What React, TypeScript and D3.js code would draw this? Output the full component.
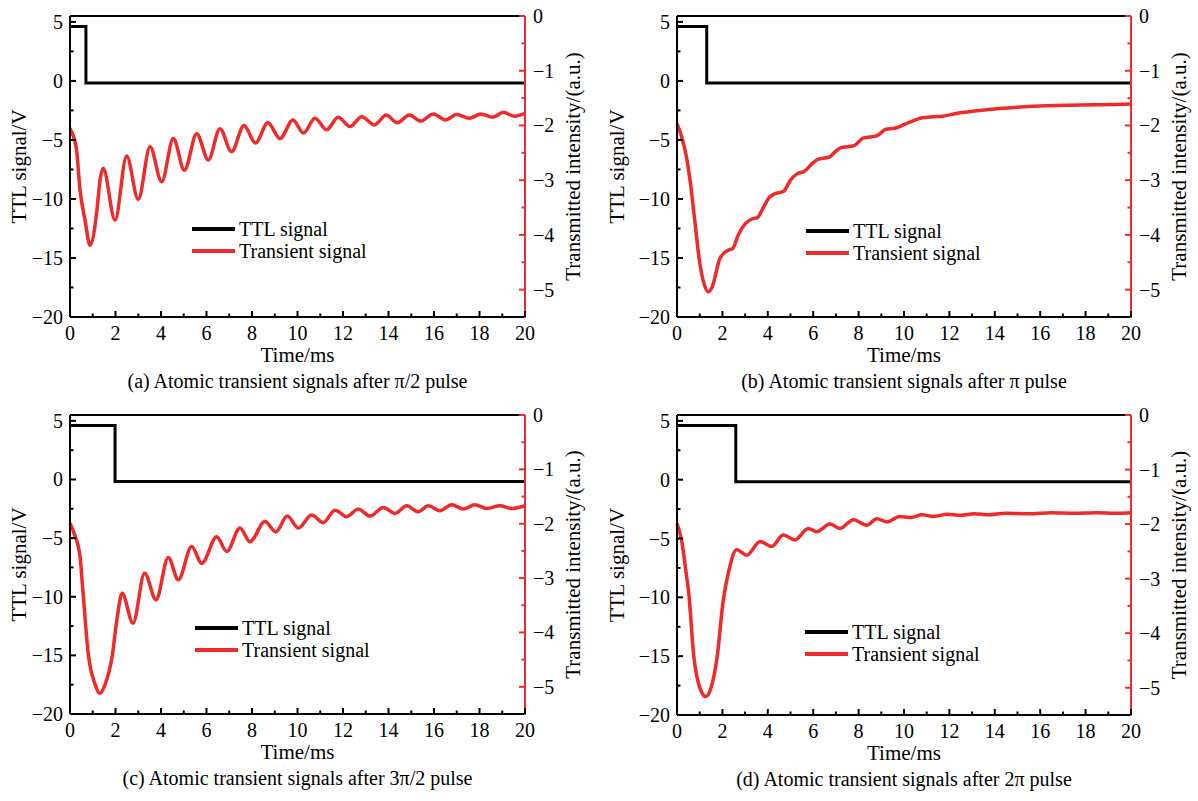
import React from "react";
import * as d3 from "d3";

// tick values / labels
const timeTicks = [0, 2, 4, 6, 8, 10, 12, 14, 16, 18, 20];
const timeMinor = [1, 3, 5, 7, 9, 11, 13, 15, 17, 19];
const ttlTicks = [5, 0, -5, -10, -15, -20];
const ttlMinor = [2.5, -2.5, -7.5, -12.5, -17.5];
const intensityTicks = [0, -1, -2, -3, -4, -5];
const intensityMinor = [-0.5, -1.5, -2.5, -3.5, -4.5];

// TTL pulses [time ms, V]
const ttlA = [[0, 4.6], [0.7, -0.17], [20, -0.17]];
const ttlB = [[0, 4.6], [1.31, -0.17], [20, -0.17]];
const ttlC = [[0, 4.6], [1.98, -0.17], [20, -0.17]];
const ttlD = [[0, 4.6], [2.59, -0.17], [20, -0.17]];

// transient signal [time ms, transmitted intensity a.u.]
const transientA = [
  [0, -2.05], [0.15, -2.2], [0.29, -2.45], [0.44, -3.18], [0.66, -3.73], [0.88, -4.19],
  [1.17, -3.6], [1.32, -3.0], [1.46, -2.78], [1.98, -3.73], [2.49, -2.56], [3.0, -3.35],
  [3.52, -2.39], [4.03, -3.03], [4.54, -2.24], [5.03, -2.82], [5.57, -2.15], [6.08, -2.63],
  [6.59, -2.06], [7.1, -2.48], [7.65, -2.0], [8.15, -2.32], [8.7, -1.95], [9.23, -2.24],
  [9.8, -1.9], [10.26, -2.14], [10.77, -1.87], [11.28, -2.08], [11.79, -1.85], [12.31, -2.02],
  [12.82, -1.84], [13.38, -1.99], [13.9, -1.81], [14.38, -1.95], [14.92, -1.81], [15.42, -1.92],
  [15.97, -1.79], [16.5, -1.9], [17.0, -1.8], [17.55, -1.87], [18.07, -1.79], [18.58, -1.85],
  [19.05, -1.76], [19.52, -1.83], [20, -1.78],
];
const transientB = [
  [0, -1.97], [0.2, -2.2], [0.42, -2.58], [0.57, -2.99], [0.8, -3.8], [0.97, -4.42],
  [1.2, -4.9], [1.37, -5.04], [1.55, -4.95], [1.9, -4.42], [2.25, -4.28], [2.45, -4.25],
  [2.7, -4.0], [3.0, -3.8], [3.3, -3.71], [3.55, -3.68], [3.8, -3.5], [4.1, -3.3],
  [4.3, -3.25], [4.7, -3.2], [5.0, -3.0], [5.3, -2.88], [5.6, -2.84], [6.0, -2.68],
  [6.2, -2.62], [6.7, -2.58], [7.0, -2.47], [7.2, -2.41], [7.8, -2.37], [8.2, -2.23],
  [8.8, -2.19], [9.2, -2.07], [9.6, -2.05], [10.2, -1.95], [10.8, -1.86], [11.3, -1.84],
  [11.7, -1.83], [12.3, -1.78], [13.2, -1.73], [13.7, -1.71], [14.2, -1.69], [15.7, -1.65],
  [17.2, -1.63], [18.6, -1.62], [20, -1.61],
];
const transientC = [
  [0, -1.99], [0.2, -2.2], [0.44, -2.6], [0.56, -3.2], [0.81, -4.42], [1.1, -4.95],
  [1.3, -5.12], [1.55, -4.95], [1.86, -4.42], [2.05, -3.8], [2.29, -3.28], [2.77, -3.83],
  [3.28, -2.91], [3.78, -3.4], [4.32, -2.62], [4.76, -3.03], [5.35, -2.42], [5.79, -2.73],
  [6.45, -2.24], [6.89, -2.51], [7.47, -2.08], [7.91, -2.33], [8.57, -1.96], [9.05, -2.15],
  [9.55, -1.86], [10.04, -2.08], [10.62, -1.84], [11.13, -1.98], [11.65, -1.75], [12.16, -1.87],
  [12.67, -1.73], [13.19, -1.86], [13.77, -1.7], [14.29, -1.81], [14.8, -1.67], [15.31, -1.78],
  [15.75, -1.67], [16.26, -1.76], [16.78, -1.65], [17.29, -1.73], [17.8, -1.65], [18.32, -1.72],
  [18.9, -1.67], [19.41, -1.72], [20, -1.67],
];
const transientD = [
  [0, -1.99], [0.2, -2.29], [0.42, -2.95], [0.5, -3.2], [0.75, -4.46], [1.05, -5.05],
  [1.27, -5.16], [1.5, -5.0], [1.76, -4.46], [2.04, -3.39], [2.26, -2.9], [2.63, -2.47],
  [3.07, -2.57], [3.66, -2.32], [4.17, -2.41], [4.68, -2.2], [5.2, -2.29], [5.78, -2.08],
  [6.15, -2.14], [6.74, -2.0], [7.18, -2.08], [7.77, -1.92], [8.36, -2.02], [8.8, -1.9],
  [9.24, -1.96], [9.82, -1.86], [10.3, -1.88], [10.8, -1.83], [11.3, -1.86], [11.9, -1.82],
  [12.5, -1.84], [13.1, -1.81], [13.7, -1.83], [14.5, -1.8], [15.5, -1.81], [16.5, -1.79],
  [17.5, -1.8], [18.5, -1.79], [19.3, -1.8], [20, -1.79],
];

const captions = [
  "(a) Atomic transient signals after \u03c0/2 pulse",
  "(b) Atomic transient signals after \u03c0 pulse",
  "(c) Atomic transient signals after 3\u03c0/2 pulse",
  "(d) Atomic transient signals after 2\u03c0 pulse",
];

const RED = "#ee2a2a";
const FONT = "'Liberation Serif', 'Times New Roman', serif";

const panels = [
  { x0: 70, x1: 525, y0: 16, y1: 317, lx: 19, rx: 573, legX: 192, legY: 229, ttl: ttlA, sig: transientA, cap: captions[0] },
  { x0: 677, x1: 1131, y0: 16, y1: 317, lx: 617, rx: 1179, legX: 806, legY: 231, ttl: ttlB, sig: transientB, cap: captions[1] },
  { x0: 70, x1: 525, y0: 415, y1: 714, lx: 19, rx: 573, legX: 195, legY: 628, ttl: ttlC, sig: transientC, cap: captions[2] },
  { x0: 677, x1: 1131, y0: 415, y1: 715, lx: 617, rx: 1179, legX: 805, legY: 632, ttl: ttlD, sig: transientD, cap: captions[3] },
];

const fmt = (v) => (v < 0 ? "\u2212" + Math.abs(v) : String(v));

const Panel = ({ p }) => {
  const x = d3.scaleLinear().domain([0, 20]).range([p.x0, p.x1]);
  const yL = d3.scaleLinear().domain([-20, 5.5]).range([p.y1, p.y0]);
  const yR = d3.scaleLinear().domain([-5.5, 0]).range([p.y1, p.y0]);

  const ttlLine = d3.line().x((d) => x(d[0])).y((d) => yL(d[1])).curve(d3.curveStepAfter);
  const sigLine = d3.line().x((d) => x(d[0])).y((d) => yR(d[1])).curve(d3.curveMonotoneX);
  const cx = (p.x0 + p.x1) / 2;
  const cy = (p.y0 + p.y1) / 2;

  return (
    <g fontFamily={FONT} fontSize={20}>
      <path d={ttlLine(p.ttl)} fill="none" stroke="#000" strokeWidth={3} />
      <path d={sigLine(p.sig)} fill="none" stroke={RED} strokeWidth={3.5} strokeLinejoin="round" />

      {/* frame */}
      <line x1={p.x0} x2={p.x1} y1={p.y0} y2={p.y0} stroke="#000" strokeWidth={2} />
      <line x1={p.x0} x2={p.x1} y1={p.y1} y2={p.y1} stroke="#000" strokeWidth={2} />
      <line x1={p.x0} x2={p.x0} y1={p.y0} y2={p.y1} stroke="#000" strokeWidth={2} />
      <line x1={p.x1} x2={p.x1} y1={p.y0} y2={p.y1 + 1} stroke={RED} strokeWidth={2} />

      {/* bottom axis */}
      {timeTicks.map((t) => (
        <g key={"t" + t}>
          <line x1={x(t)} x2={x(t)} y1={p.y1} y2={p.y1 - 6} stroke="#000" strokeWidth={2} />
          <text x={x(t)} y={p.y1 + 16} textAnchor="middle" dominantBaseline="central">{t}</text>
        </g>
      ))}
      {timeMinor.map((t) => (
        <line key={"tm" + t} x1={x(t)} x2={x(t)} y1={p.y1} y2={p.y1 - 3.5} stroke="#000" strokeWidth={2} />
      ))}

      {/* left axis */}
      {ttlTicks.map((v) => (
        <g key={"l" + v}>
          <line x1={p.x0} x2={p.x0 + 6} y1={yL(v)} y2={yL(v)} stroke="#000" strokeWidth={2} />
          <text x={p.x0 - 7} y={yL(v)} textAnchor="end" dominantBaseline="central">{fmt(v)}</text>
        </g>
      ))}
      {ttlMinor.map((v) => (
        <line key={"lm" + v} x1={p.x0} x2={p.x0 + 3.5} y1={yL(v)} y2={yL(v)} stroke="#000" strokeWidth={2} />
      ))}

      {/* right axis */}
      {intensityTicks.map((v) => (
        <g key={"r" + v}>
          <line x1={p.x1} x2={p.x1 - 6} y1={yR(v)} y2={yR(v)} stroke={RED} strokeWidth={2} />
          <text x={p.x1 + 8} y={yR(v)} dominantBaseline="central">{fmt(v)}</text>
        </g>
      ))}
      {intensityMinor.map((v) => (
        <line key={"rm" + v} x1={p.x1} x2={p.x1 - 3.5} y1={yR(v)} y2={yR(v)} stroke={RED} strokeWidth={2} />
      ))}

      {/* axis titles */}
      <text x={cx} y={p.y1 + 38} textAnchor="middle" dominantBaseline="central" fontSize={21}>Time/ms</text>
      <text transform={`translate(${p.lx},${cy}) rotate(-90)`} textAnchor="middle" dominantBaseline="central" fontSize={21}>TTL signal/V</text>
      <text transform={`translate(${p.rx},${cy}) rotate(-90)`} textAnchor="middle" dominantBaseline="central" fontSize={21}>Transmitted intensity/(a.u.)</text>
      <text x={cx} y={p.y1 + 64} textAnchor="middle" dominantBaseline="central">{p.cap}</text>

      {/* legend */}
      <g fontSize={20}>
        <line x1={p.legX} x2={p.legX + 43} y1={p.legY} y2={p.legY} stroke="#000" strokeWidth={4} />
        <text x={p.legX + 47} y={p.legY} dominantBaseline="central">TTL signal</text>
        <line x1={p.legX} x2={p.legX + 43} y1={p.legY + 22} y2={p.legY + 22} stroke={RED} strokeWidth={4} />
        <text x={p.legX + 47} y={p.legY + 22} dominantBaseline="central">Transient signal</text>
      </g>
    </g>
  );
};

const App = () => (
  <div style={{ position: "absolute", left: 0, top: 0 }}>
    <svg width={1198} height={801} style={{ display: "block", background: "#fff" }}>
      {panels.map((p, i) => (
        <Panel key={i} p={p} />
      ))}
    </svg>
  </div>
);

export default App;
